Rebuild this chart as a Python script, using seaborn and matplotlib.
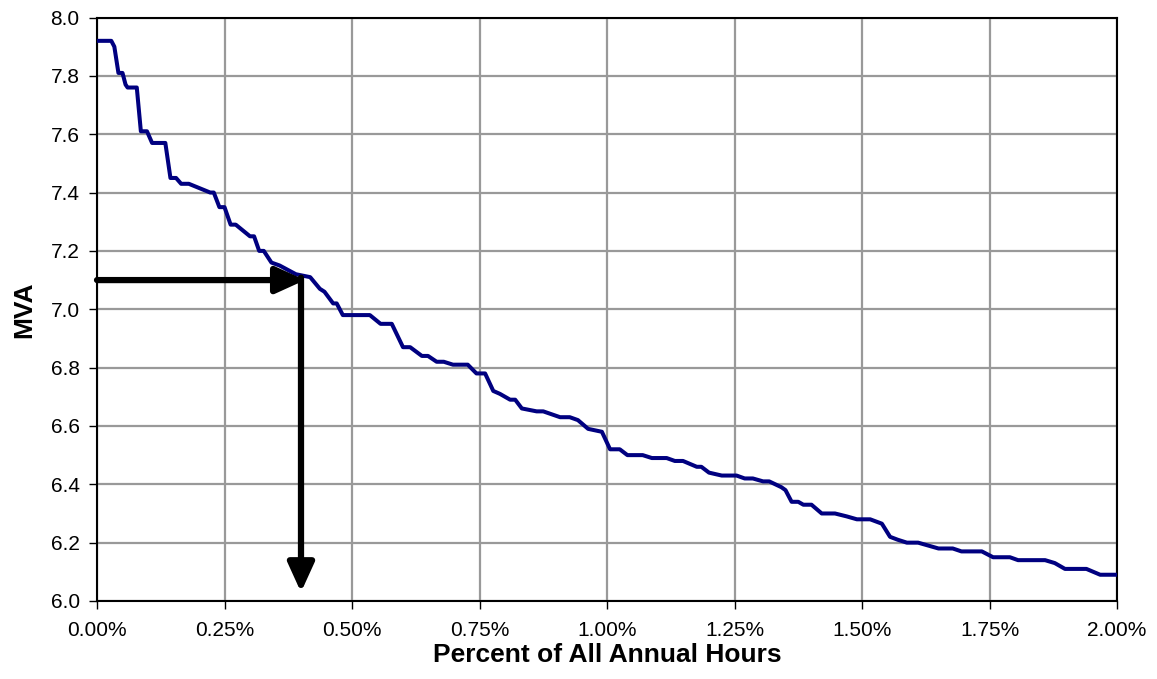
import numpy as np
import pandas as pd
import matplotlib
matplotlib.use("Agg")
import matplotlib.pyplot as plt
import seaborn as sns
from matplotlib.ticker import FuncFormatter

# ---- data ----
pct_hours = [0.000, 0.028, 0.034, 0.042, 0.050, 0.056, 0.060, 0.078, 0.086, 0.098,
             0.108, 0.134, 0.144, 0.155, 0.165, 0.180, 0.222, 0.229, 0.240, 0.250,
             0.262, 0.272, 0.300, 0.308, 0.318, 0.327, 0.342, 0.358, 0.390, 0.418,
             0.437, 0.446, 0.463, 0.470, 0.482, 0.535, 0.556, 0.578, 0.600, 0.614,
             0.637, 0.649, 0.666, 0.680, 0.698, 0.727, 0.744, 0.761, 0.777, 0.790,
             0.810, 0.820, 0.833, 0.862, 0.875, 0.908, 0.927, 0.943, 0.963, 0.990,
             1.006, 1.025, 1.040, 1.070, 1.088, 1.117, 1.133, 1.149, 1.176, 1.185,
             1.200, 1.225, 1.254, 1.270, 1.286, 1.306, 1.318, 1.342, 1.350, 1.362,
             1.375, 1.385, 1.401, 1.421, 1.447, 1.470, 1.490, 1.516, 1.539, 1.555,
             1.570, 1.588, 1.610, 1.630, 1.650, 1.678, 1.695, 1.735, 1.757, 1.790,
             1.806, 1.859, 1.878, 1.898, 1.940, 1.967, 2.000]
mva = [7.92, 7.92, 7.90, 7.81, 7.81, 7.77, 7.76, 7.76, 7.61, 7.61,
       7.57, 7.57, 7.45, 7.45, 7.43, 7.43, 7.40, 7.40, 7.35, 7.35,
       7.29, 7.29, 7.25, 7.25, 7.20, 7.20, 7.16, 7.15, 7.12, 7.11,
       7.07, 7.06, 7.02, 7.02, 6.98, 6.98, 6.95, 6.95, 6.87, 6.87,
       6.84, 6.84, 6.82, 6.82, 6.81, 6.81, 6.78, 6.78, 6.72, 6.71,
       6.69, 6.69, 6.66, 6.65, 6.65, 6.63, 6.63, 6.62, 6.59, 6.58,
       6.52, 6.52, 6.50, 6.50, 6.49, 6.49, 6.48, 6.48, 6.46, 6.46,
       6.44, 6.43, 6.43, 6.42, 6.42, 6.41, 6.41, 6.39, 6.38, 6.34,
       6.34, 6.33, 6.33, 6.30, 6.30, 6.29, 6.28, 6.28, 6.265, 6.22,
       6.21, 6.20, 6.20, 6.19, 6.18, 6.18, 6.17, 6.17, 6.15, 6.15,
       6.14, 6.14, 6.13, 6.11, 6.11, 6.09, 6.09]
x_ticks = [0.00, 0.25, 0.50, 0.75, 1.00, 1.25, 1.50, 1.75, 2.00]
y_ticks = [6.0, 6.2, 6.4, 6.6, 6.8, 7.0, 7.2, 7.4, 7.6, 7.8, 8.0]
threshold_pct = 0.40
threshold_mva = 7.10

df = pd.DataFrame({"pct": pct_hours, "mva": mva})

sns.set_theme(style="white")
plt.rcParams["font.family"] = ["Liberation Sans", "DejaVu Sans"]

fig = plt.figure(figsize=(11.57, 6.79), dpi=100)
ax = fig.add_axes([97 / 1157, 1 - 601 / 679, 1020 / 1157, 583.5 / 679])

sns.lineplot(data=df, x="pct", y="mva", ax=ax, color="#000080", linewidth=2.9,
             sort=False, estimator=None, zorder=3)
ax.lines[-1].set_solid_joinstyle("round")
ax.lines[-1].set_solid_capstyle("butt")

ax.set_xlim(x_ticks[0], x_ticks[-1])
ax.set_ylim(y_ticks[0], y_ticks[-1])
ax.set_xticks(x_ticks)
ax.set_yticks(y_ticks)
ax.xaxis.set_major_formatter(FuncFormatter(lambda v, p: f"{v:.2f}%"))
ax.yaxis.set_major_formatter(FuncFormatter(lambda v, p: f"{v:.1f}"))

ax.grid(True, color="#999999", linewidth=1.6, zorder=0)
ax.set_axisbelow(True)
for s in ax.spines.values():
    s.set_color("black")
    s.set_linewidth(1.5)

ax.tick_params(axis="both", direction="out", length=5.5, width=1, color="black",
               labelsize=15, labelcolor="black", bottom=True, left=True)
ax.tick_params(axis="x", pad=9)
ax.tick_params(axis="y", pad=7)

ax.set_xlabel("Percent of All Annual Hours", fontsize=19, fontweight="bold",
              color="black", labelpad=2)
ax.set_ylabel("MVA", fontsize=19, fontweight="bold", color="black", labelpad=10)

# arrows
arrow_kw = dict(arrowstyle="-|>,head_length=1.1,head_width=0.5", lw=4.5,
                color="black", shrinkA=0, shrinkB=0, mutation_scale=16)
ax.annotate("", xy=(threshold_pct + 0.008, threshold_mva), xytext=(x_ticks[0], threshold_mva),
            arrowprops=arrow_kw, zorder=5)
ax.annotate("", xy=(threshold_pct, y_ticks[0] + 0.03), xytext=(threshold_pct, threshold_mva + 0.008),
            arrowprops=arrow_kw, zorder=5)

fig.savefig("out.png", dpi=100)
